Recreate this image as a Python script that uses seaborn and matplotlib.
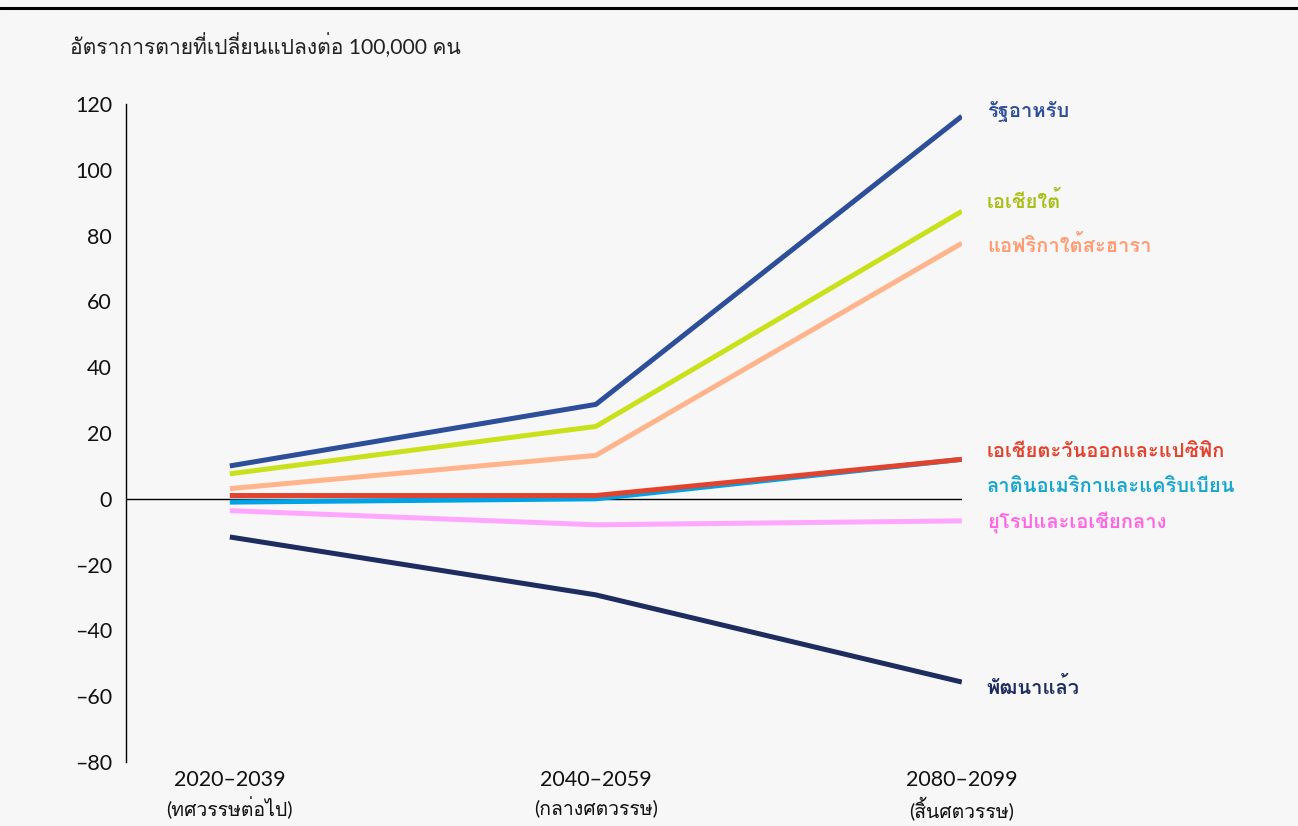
import numpy as np
import pandas as pd
import matplotlib
matplotlib.use("Agg")
import matplotlib.pyplot as plt
import seaborn as sns
from matplotlib import font_manager
from matplotlib.ft2font import FT2Font
from matplotlib.lines import Line2D

# ---- data ----
period_years = ["2020–2039", "2040–2059", "2080–2099"]
period_names = ["(ทศวรรษต่อไป)", "(กลางศตวรรษ)", "(สิ้นศตวรรษ)"]
regions = ["รัฐอาหรับ", "เอเชียใต้", "แอฟริกาใต้สะฮารา", "ลาตินอเมริกาและแคริบเบียน",
           "เอเชียตะวันออกและแปซิฟิก", "ยุโรปและเอเชียกลาง", "พัฒนาแล้ว"]
arab_states = [10, 28.7, 116.3]
south_asia = [7.6, 22, 87.4]
sub_saharan = [3.1, 13.2, 77.7]
latin_america = [-1, 0, 12]
east_asia = [1, 1, 12]
europe_central = [-3.6, -7.9, -6.7]
developed = [-11.6, -29.2, -55.7]

line_colors = ["#2D4E98", "#C9E11B", "#FFB48C", "#00A2E6", "#E1432E", "#FFA6FF", "#1E2C60"]
text_colors = ["#2D4E98", "#A9BE16", "#FF9B72", "#19A6CB", "#E1432E", "#FF66E4", "#1E2C60"]
label_y = [117.8, 90.3, 77.0, 4.0, 14.5, -7.5, -57.5]

# ---- fonts: find something that can draw Thai ----
def find_thai_font():
    for f in font_manager.fontManager.ttflist:
        try:
            if ord("ก") in FT2Font(f.fname).get_charmap():
                return f.name
        except Exception:
            pass
    return "DejaVu Sans"

thai = find_thai_font()

sns.set_theme(style="white")
plt.rcParams["font.family"] = ["Lato", thai, "DejaVu Sans"]
plt.rcParams["axes.unicode_minus"] = False

series = [arab_states, south_asia, sub_saharan, latin_america, east_asia, europe_central, developed]
rows = []
for name, vals in zip(regions, series):
    for i, v in enumerate(vals):
        rows.append({"region": name, "x": i, "value": v})
df = pd.DataFrame(rows)

bg = "#F7F7F7"
fig = plt.figure(figsize=(12.98, 8.26), dpi=100, facecolor=bg)
ax = fig.add_axes([0.097, 0.0775, 0.644, 0.7965], facecolor=bg)

sns.lineplot(data=df, x="x", y="value", hue="region", hue_order=regions,
             palette=line_colors, linewidth=3.6, legend=False, ax=ax,
             solid_capstyle="butt")

ax.axhline(0, color="black", linewidth=1.0, zorder=0)

ax.set_xlim(-0.284, 2.0)
ax.set_ylim(-80, 120)
ax.set_yticks(np.arange(-80, 121, 20))
ax.set_yticklabels([f"{t}".replace("-", "–") for t in range(-80, 121, 20)])
ax.set_xticks(range(len(period_years)))
ax.set_xticklabels(period_years)
ax.tick_params(axis="y", length=6, width=1.0, color="black", labelsize=15.5, pad=4,
               direction="out", labelcolor="#111111")
ax.tick_params(axis="x", length=0, labelsize=15.5, pad=6, labelcolor="#111111")
ax.set_xlabel("")
ax.set_ylabel("")
for s in ["top", "right", "bottom"]:
    ax.spines[s].set_visible(False)
ax.spines["left"].set_color("black")
ax.spines["left"].set_linewidth(1.0)

# second line under each period
for i, nm in enumerate(period_names):
    ax.annotate(nm, xy=(i, 0), xycoords=ax.get_xaxis_transform(), xytext=(0, -33),
                textcoords="offset points", ha="center", va="center", fontsize=14,
                color="#111111", annotation_clip=False)

for name, yv, col in zip(regions, label_y, text_colors):
    ax.annotate(name, xy=(2, yv), xytext=(18, 0), textcoords="offset points",
                color=col, fontsize=14.5, fontweight="bold", va="center", ha="left",
                annotation_clip=False)

fig.text(70 / 1298, 1 - 46 / 826, "อัตราการตายที่เปลี่ยนแปลงต่อ 100,000 คน",
         fontsize=15.2, va="center", ha="left", color="#222222")

fig.add_artist(Line2D([0, 1], [1 - 8 / 826, 1 - 8 / 826], color="black", linewidth=2.2,
                      transform=fig.transFigure))

fig.savefig("out.png", dpi=100, facecolor=bg)
